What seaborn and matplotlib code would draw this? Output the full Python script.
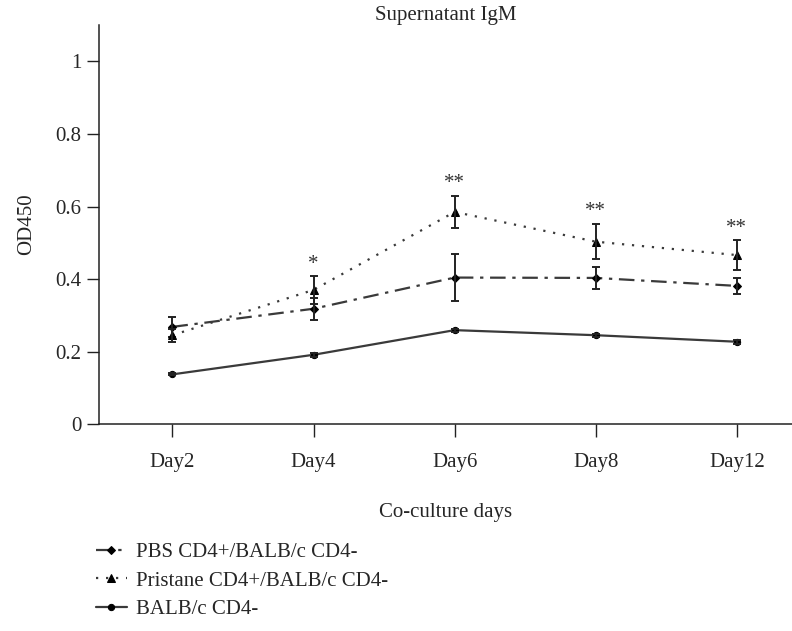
import numpy as np
import pandas as pd
import seaborn as sns
import matplotlib.pyplot as plt

# Values
days = ['Day2', 'Day4', 'Day6', 'Day8', 'Day12']
pbs = [0.268, 0.318, 0.404, 0.403, 0.381]
pbs_err = [0.028, 0.031, 0.066, 0.030, 0.021]
pristane = [0.245, 0.370, 0.585, 0.503, 0.466]
pristane_err = [0.018, 0.038, 0.045, 0.049, 0.041]
balb = [0.137, 0.191, 0.259, 0.245, 0.227]
balb_err = [0.003, 0.006, 0.004, 0.004, 0.006]
sig_marks = ['', '*', '**', '**', '**']

groups = ['PBS CD4+/BALB/c CD4-', 'Pristane CD4+/BALB/c CD4-', 'BALB/c CD4-']

sns.set_style('ticks')
plt.rcParams['font.family'] = ['Liberation Serif', 'DejaVu Serif']

x = np.arange(len(days))
df = pd.DataFrame({
    'x': np.tile(x, 3),
    'OD450': pbs + pristane + balb,
    'err': pbs_err + pristane_err + balb_err,
    'group': np.repeat(groups, len(days)),
})

line_col = '#3a3a3a'
styles = {
    groups[0]: dict(ls=(0, (7, 3, 1.5, 3)), marker='D', ms=4.5),
    groups[1]: dict(ls=(0, (1, 3.5)), marker='^', ms=5.5),
    groups[2]: dict(ls='-', marker='o', ms=4.5),
}

fig = plt.figure(figsize=(7.92, 6.31), dpi=100)
ax = fig.add_axes([0.125, 0.328, 0.875, 0.632])

for g in groups:
    d = df[df['group'] == g]
    st = styles[g]
    sns.lineplot(data=d, x='x', y='OD450', ax=ax, color=line_col, lw=1.6,
                 linestyle=st['ls'], marker=st['marker'], markersize=st['ms'],
                 markeredgecolor='black', markerfacecolor='black',
                 label=g, legend=False)
    ax.errorbar(d['x'], d['OD450'], yerr=d['err'], fmt='none', ecolor='#222222',
                elinewidth=1.4, capsize=3, capthick=1.4)

# significance stars above pristane error bars
for i, s in enumerate(sig_marks):
    if s:
        ax.text(x[i], pristane[i] + pristane_err[i] + 0.033, s, ha='center',
                va='center', fontsize=15, color='#333333')

ax.set_xlim(-0.52, 4.39)
ax.set_ylim(0, 1.1)
ax.set_xticks(x)
ax.set_xticklabels(days)
ax.set_yticks([0, 0.2, 0.4, 0.6, 0.8, 1.0])
ax.set_yticklabels(['0', '0.2', '0.4', '0.6', '0.8', '1'])
ax.tick_params(axis='both', labelsize=15, length=9, width=1, color='#222222')
ax.tick_params(axis='x', pad=12)
for side in ['left', 'bottom']:
    ax.spines[side].set_linewidth(1.1)
    ax.spines[side].set_color('#222222')
sns.despine(ax=ax)

ax.set_title('Supernatant IgM', fontsize=15, pad=2)
ax.set_xlabel('Co-culture days', fontsize=15, labelpad=22)
ax.set_ylabel('OD450', fontsize=15, labelpad=14)

handles, labels = ax.get_legend_handles_labels()
fig.legend(handles, labels, loc='upper left', bbox_to_anchor=(0.098, 0.170),
           frameon=False, fontsize=15, handlelength=1.45, labelspacing=0.43,
           handletextpad=0.45)

fig.savefig('out.png', dpi=100)
